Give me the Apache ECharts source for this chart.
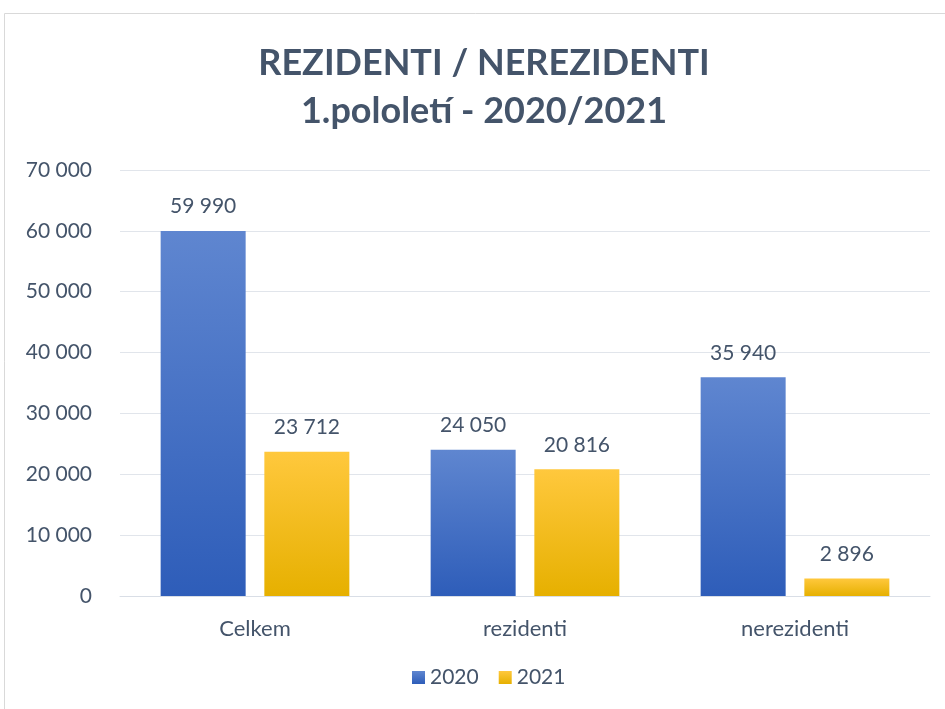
<!DOCTYPE html>
<html lang="cs">
<head>
	<meta charset="UTF-8">
	<title>Rezidenti / nerezidenti</title>
	<style>
	body, div {
		margin: 0;
		padding: 0;
	}
	#echart {
		width: 945px;
		height: 709px;
		background: #fff;
	}
	</style>
</head>
<body>
	<div id="echart"></div>

	<script src="https://cdn.jsdelivr.net/npm/echarts@6/dist/echarts.min.js"></script>

	<script>
	// data
	var categories = ['Celkem', 'rezidenti', 'nerezidenti'];
	var values2020 = [59990, 24050, 35940];
	var values2021 = [23712, 20816, 2896];
	var yTicks = [0, 10000, 20000, 30000, 40000, 50000, 60000, 70000];

	var textColor = '#44546A';
	var fontName = 'Lato';

	// 59990 -> "59 990"
	function fmt(v) {
		return String(v).replace(/\B(?=(\d{3})+(?!\d))/g, ' ');
	}

	function grad(top, bottom) {
		return new echarts.graphic.LinearGradient(0, 0, 0, 1, [
			{offset: 0, color: top},
			{offset: 1, color: bottom}
		]);
	}

	var blue = grad('#5F86D0', '#2E5DB9');
	var yellow = grad('#FFC83D', '#E6B000');

	var myEchart = echarts.init(document.getElementById('echart'));

	var option = {
		animation: false,
		textStyle: {
			fontFamily: fontName
		},
		graphic: [{
			type: 'rect',
			shape: {x: 4.5, y: 13.5, width: 1000, height: 1000},
			style: {fill: 'none', stroke: '#D9D9D9', lineWidth: 1},
			silent: true
		}],
		title: {
			text: 'REZIDENTI / NEREZIDENTI\n1.pololetí - 2020/2021',
			left: 479,
			textAlign: 'center',
			top: 34,
			textStyle: {
				color: textColor,
				fontFamily: fontName,
				fontWeight: 'bold',
				fontSize: 36,
				lineHeight: 48
			}
		},
		legend: {
			bottom: 16,
			left: 407,
			itemWidth: 13,
			itemHeight: 13,
			itemGap: 20,
			icon: 'rect',
			textStyle: {
				color: textColor,
				fontSize: 21
			},
			data: ['2020', '2021']
		},
		grid: {
			left: 120,
			right: 15,
			top: 170,
			bottom: 113,
			containLabel: false
		},
		xAxis: {
			type: 'category',
			data: categories,
			axisLine: {lineStyle: {color: '#D9DEE6', width: 1}},
			axisTick: {show: false},
			axisLabel: {
				color: textColor,
				fontSize: 22,
				margin: 22
			}
		},
		yAxis: {
			type: 'value',
			min: yTicks[0],
			max: yTicks[yTicks.length - 1],
			interval: 10000,
			axisLine: {show: false},
			axisTick: {show: false},
			splitLine: {lineStyle: {color: '#E1E5EB', width: 1}},
			axisLabel: {
				color: textColor,
				fontSize: 21,
				margin: 28,
				formatter: function (v) { return fmt(v); }
			}
		},
		series: [
			{
				name: '2020',
				type: 'bar',
				data: values2020,
				barWidth: 85,
				barGap: '22%',
				itemStyle: {color: blue},
				label: {
					show: true,
					position: 'top',
					distance: 14,
					color: textColor,
					fontSize: 21,
					formatter: function (p) { return fmt(p.value); }
				}
			},
			{
				name: '2021',
				type: 'bar',
				data: values2021,
				barWidth: 85,
				itemStyle: {color: yellow},
				label: {
					show: true,
					position: 'top',
					distance: 14,
					color: textColor,
					fontSize: 21,
					formatter: function (p) { return fmt(p.value); }
				}
			}
		]
	};

	myEchart.setOption(option);
	</script>
</body>
</html>
